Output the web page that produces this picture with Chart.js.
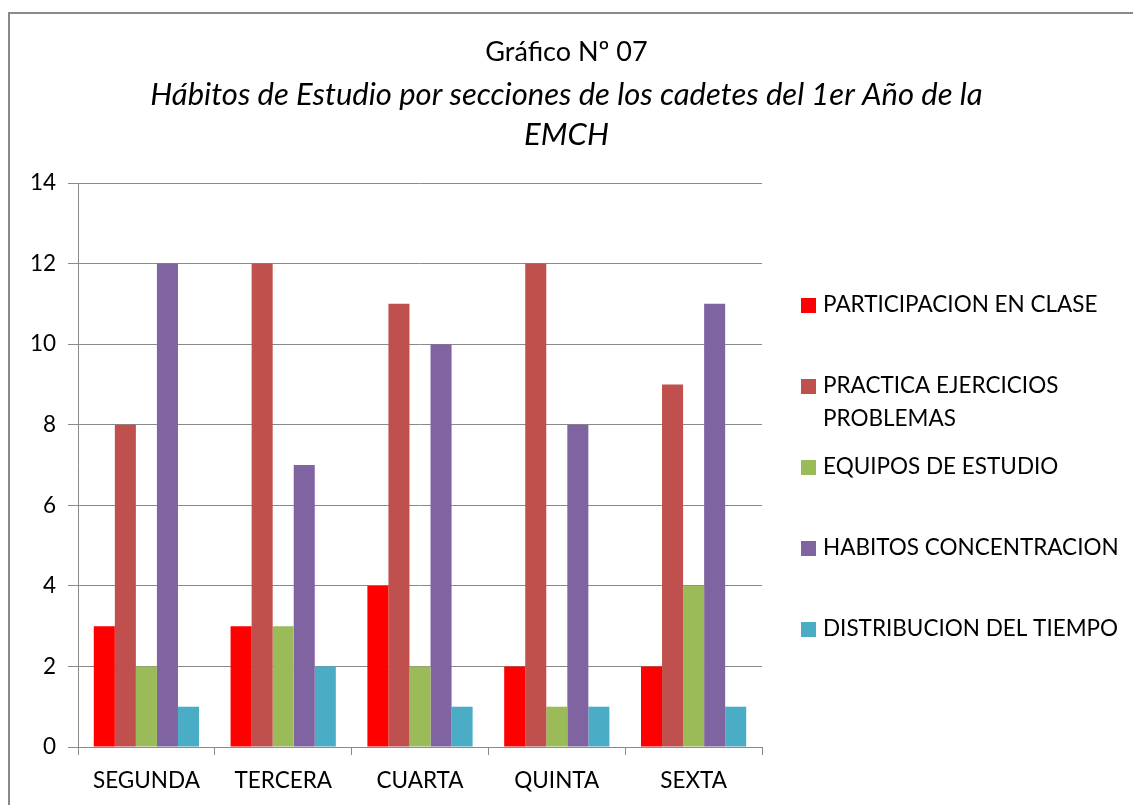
<!DOCTYPE html>
<html>
<head>
<meta charset="utf-8">
<script src="https://cdn.jsdelivr.net/npm/chart.js@4/dist/chart.umd.min.js"></script>
<style>
  html, body { margin: 0; padding: 0; background: #fff; overflow: hidden; }
  #marco { position: absolute; left: 8px; top: 12px; width: 1200px; height: 900px; border: 2px solid #8a8a8a; box-sizing: border-box; }
  #wrap { position: absolute; left: 0; top: 0; width: 1133px; height: 805px; }
</style>
</head>
<body>
<div id="marco"></div>
<div id="wrap"><canvas id="grafico" width="1133" height="805"></canvas></div>
<script>
const secciones = ['SEGUNDA', 'TERCERA', 'CUARTA', 'QUINTA', 'SEXTA'];

const participacion = [3, 3, 4, 2, 2];
const practica = [8, 12, 11, 12, 9];
const equipos = [2, 3, 2, 1, 4];
const habitos = [12, 7, 10, 8, 11];
const distribucion = [1, 2, 1, 1, 1];

const nombres = [
    'PARTICIPACION EN CLASE',
    ['PRACTICA EJERCICIOS', 'PROBLEMAS'],
    'EQUIPOS DE ESTUDIO',
    'HABITOS CONCENTRACION',
    'DISTRIBUCION DEL TIEMPO'
];
const colores = ['#FF0000', '#C0504D', '#9BBB59', '#8064A2', '#4BACC6'];

const fuente = 'Lato, "Open Sans", sans-serif';
const gris = '#8a8a8a';

// leyenda dibujada a mano a la derecha
const leyenda = {
    id: 'leyenda',
    afterDraw(chart) {
        const ctx = chart.ctx;
        const x0 = chart.chartArea.right + 39;
        ctx.save();
        ctx.font = '22.5px ' + fuente;
        ctx.textBaseline = 'middle';
        chart.data.datasets.forEach((ds, i) => {
            const y = chart.chartArea.top + 122 + i * 81;
            ctx.fillStyle = ds.backgroundColor;
            ctx.fillRect(x0, y - 7, 15, 15);
            ctx.fillStyle = '#000';
            const lineas = Array.isArray(ds.label) ? ds.label : [ds.label];
            lineas.forEach((t, j) => ctx.fillText(t, x0 + 22, y + j * 33));
        });
        ctx.restore();
    }
};

const datos = {
    labels: secciones,
    datasets: [participacion, practica, equipos, habitos, distribucion].map((d, i) => ({
        label: nombres[i],
        data: d,
        backgroundColor: colores[i],
        categoryPercentage: 5 / 6.5,
        barPercentage: 1
    }))
};

new Chart(document.getElementById('grafico'), {
    type: 'bar',
    data: datos,
    options: {
        responsive: false,
        animation: false,
        plugins: {
            legend: { display: false },
            tooltip: { enabled: false },
            title: {
                display: true,
                text: 'Gráfico Nº 07',
                color: '#000',
                font: { family: fuente, size: 27, weight: 'normal' },
                padding: { top: 36, bottom: 7 }
            },
            subtitle: {
                display: true,
                text: ['Hábitos de Estudio por secciones de los cadetes del 1er Año de la', 'EMCH'],
                color: '#000',
                font: { family: fuente, size: 31, style: 'italic', lineHeight: 40 / 31 },
                padding: { top: 0, bottom: 27.6 }
            }
        },
        scales: {
            x: {
                grid: { display: true, drawOnChartArea: false, drawTicks: true, tickLength: 8, color: gris },
                border: { color: gris, width: 1 },
                ticks: { color: '#000', font: { family: fuente, size: 22.5 }, padding: 12 },
                afterFit(s) { s.height = 58; }
            },
            y: {
                min: 0,
                max: 14,
                ticks: { stepSize: 2, color: '#000', font: { family: fuente, size: 22.5 }, padding: 12 },
                grid: { color: gris, tickLength: 10 },
                border: { color: gris, width: 1 },
                afterFit(s) { s.width = 78; }
            },
            espacio: {
                type: 'linear',
                position: 'right',
                display: true,
                grid: { display: false },
                ticks: { display: false },
                border: { display: false },
                afterFit(s) { s.width = 371; }
            }
        }
    },
    plugins: [leyenda]
});
</script>
</body>
</html>
